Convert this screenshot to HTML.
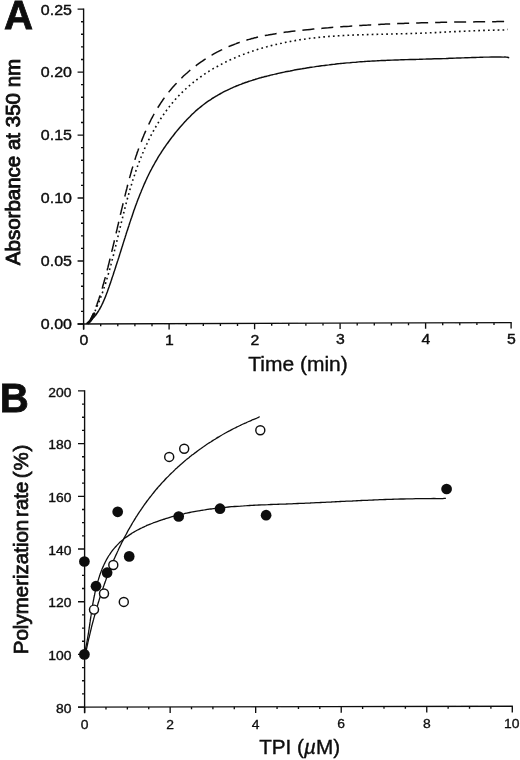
<!DOCTYPE html>
<html lang="en"><head><meta charset="utf-8"><title>Figure</title>
<style>html,body{margin:0;padding:0;background:#fff}body{width:520px;height:760px;overflow:hidden}svg{display:block}</style>
</head><body>
<svg width="520" height="760" viewBox="0 0 520 760">
<defs><filter id="soft" x="0" y="0" width="520" height="760" filterUnits="userSpaceOnUse"><feGaussianBlur stdDeviation="0.42"/></filter></defs>
<rect width="520" height="760" fill="#fff"/>
<g filter="url(#soft)">
<g fill="none" stroke="#111" stroke-width="1.35" stroke-linecap="butt">
<path d="M83.6,8.5 L83.6,329.2"/>
<path d="M77.6,324.0 L511.70000000000005,322.6"/>
<path d="M77.60,324.00H83.6M81.00,311.40H83.6M81.00,298.81H83.6M81.00,286.21H83.6M81.00,273.62H83.6M77.60,261.02H83.6M81.00,248.42H83.6M81.00,235.83H83.6M81.00,223.23H83.6M81.00,210.64H83.6M77.60,198.04H83.6M81.00,185.44H83.6M81.00,172.85H83.6M81.00,160.25H83.6M81.00,147.66H83.6M77.60,135.06H83.6M81.00,122.46H83.6M81.00,109.87H83.6M81.00,97.27H83.6M81.00,84.68H83.6M77.60,72.08H83.6M81.00,59.48H83.6M81.00,46.89H83.6M81.00,34.29H83.6M81.00,21.70H83.6M77.60,9.10H83.6M83.60,324.00v5.8M100.70,323.94v2.4M117.80,323.89v2.4M134.90,323.83v2.4M152.00,323.78v2.4M169.10,323.72v5.8M186.20,323.66v2.4M203.30,323.61v2.4M220.40,323.55v2.4M237.50,323.50v2.4M254.60,323.44v5.8M271.70,323.38v2.4M288.80,323.33v2.4M305.90,323.27v2.4M323.00,323.22v2.4M340.10,323.16v5.8M357.20,323.10v2.4M374.30,323.05v2.4M391.40,322.99v2.4M408.50,322.94v2.4M425.60,322.88v5.8M442.70,322.82v2.4M459.80,322.77v2.4M476.90,322.71v2.4M494.00,322.66v2.4M511.10,322.60v5.8"/>
<path d="M84.6,390.29999999999995 L84.6,712.7"/>
<path d="M78.0,707.1 L512.9,706.2"/>
<path d="M78.00,707.10H84.6M82.00,693.93H84.6M82.00,680.75H84.6M82.00,667.58H84.6M78.00,654.40H84.6M82.00,641.23H84.6M82.00,628.05H84.6M82.00,614.88H84.6M78.00,601.70H84.6M82.00,588.52H84.6M82.00,575.35H84.6M82.00,562.17H84.6M78.00,549.00H84.6M82.00,535.83H84.6M82.00,522.65H84.6M82.00,509.48H84.6M78.00,496.30H84.6M82.00,483.12H84.6M82.00,469.95H84.6M82.00,456.77H84.6M78.00,443.60H84.6M82.00,430.42H84.6M82.00,417.25H84.6M82.00,404.07H84.6M78.00,390.90H84.6M84.60,707.10v6.2M105.98,707.06v2.4M127.37,707.01v2.4M148.75,706.97v2.4M170.14,706.92v6.2M191.52,706.88v2.4M212.91,706.83v2.4M234.29,706.79v2.4M255.68,706.74v6.2M277.06,706.70v2.4M298.45,706.65v2.4M319.83,706.61v2.4M341.22,706.56v6.2M362.61,706.51v2.4M383.99,706.47v2.4M405.38,706.43v2.4M426.76,706.38v6.2M448.14,706.34v2.4M469.53,706.29v2.4M490.91,706.25v2.4M512.30,706.20v6.2"/>
</g>
<g fill="none" stroke="#111" stroke-linejoin="round">
<path d="M86.2,323.6C86.7,323.4 88.1,322.8 88.9,322.3C89.8,321.7 90.4,320.9 91.1,320.3C91.9,319.6 92.5,318.8 93.2,318.1C93.8,317.4 94.5,316.6 95.1,315.8C95.7,315.1 96.3,314.3 96.8,313.5C97.4,312.7 97.9,311.8 98.5,311.0C99.0,310.2 99.5,309.3 100.0,308.5C100.5,307.6 100.9,306.7 101.4,305.8C101.8,304.9 102.3,304.0 102.7,303.1C103.1,302.2 103.5,301.3 103.9,300.4C104.3,299.5 104.7,298.5 105.1,297.6C105.5,296.7 105.8,295.7 106.2,294.8C106.6,293.8 106.9,292.9 107.3,291.9C107.6,291.0 108.0,290.0 108.3,289.1C108.6,288.1 109.0,287.1 109.3,286.2C109.6,285.2 110.0,284.3 110.3,283.3C110.6,282.4 111.0,281.4 111.3,280.4C111.6,279.5 111.9,278.5 112.2,277.6C112.6,276.6 112.9,275.6 113.2,274.7C113.5,273.7 113.8,272.8 114.1,271.8C114.5,270.9 114.8,269.9 115.1,268.9C115.4,268.0 115.7,267.0 116.0,266.1C116.3,265.1 116.6,264.2 116.9,263.2C117.2,262.2 117.5,261.3 117.9,260.3C118.2,259.4 118.5,258.4 118.8,257.5C119.1,256.5 119.4,255.5 119.7,254.6C120.0,253.6 120.3,252.7 120.6,251.7C120.9,250.8 121.2,249.8 121.5,248.8C121.8,247.9 122.1,246.9 122.4,246.0C122.7,245.0 123.0,244.1 123.3,243.1C123.6,242.1 123.9,241.2 124.2,240.2C124.5,239.3 124.8,238.3 125.1,237.4C125.4,236.4 125.7,235.4 126.0,234.5C126.3,233.5 126.6,232.6 126.9,231.6C127.2,230.6 127.6,229.7 127.9,228.7C128.2,227.8 128.5,226.8 128.8,225.9C129.1,224.9 129.4,223.9 129.7,223.0C130.1,222.0 130.4,221.1 130.7,220.1C131.0,219.2 131.3,218.2 131.7,217.3C132.0,216.3 132.3,215.3 132.6,214.4C133.0,213.4 133.3,212.5 133.6,211.5C133.9,210.6 134.3,209.6 134.6,208.7C135.0,207.7 135.3,206.8 135.6,205.8C136.0,204.9 136.3,203.9 136.7,203.0C137.0,202.1 137.4,201.1 137.7,200.2C138.1,199.2 138.5,198.3 138.8,197.4C139.2,196.4 139.6,195.5 139.9,194.5C140.3,193.6 140.7,192.7 141.1,191.7C141.4,190.8 141.8,189.9 142.2,189.0C142.6,188.0 143.0,187.1 143.4,186.2C143.8,185.3 144.2,184.3 144.6,183.4C145.0,182.5 145.4,181.6 145.8,180.7C146.3,179.8 146.7,178.8 147.1,177.9C147.5,177.0 148.0,176.1 148.4,175.2C148.9,174.3 149.3,173.4 149.7,172.5C150.2,171.6 150.7,170.7 151.1,169.8C151.6,169.0 152.0,168.1 152.5,167.2C153.0,166.3 153.5,165.4 154.0,164.5C154.5,163.7 154.9,162.8 155.4,161.9C155.9,161.1 156.5,160.2 157.0,159.3C157.5,158.5 158.0,157.6 158.5,156.7C159.0,155.9 159.6,155.0 160.1,154.2C160.6,153.3 161.2,152.5 161.7,151.7C162.3,150.8 162.8,150.0 163.4,149.1C164.0,148.3 164.5,147.5 165.1,146.6C165.7,145.8 166.3,145.0 166.8,144.2C167.4,143.3 168.0,142.5 168.6,141.7C169.2,140.9 169.8,140.1 170.4,139.3C171.0,138.5 171.6,137.7 172.2,136.9C172.8,136.1 173.5,135.3 174.1,134.5C174.7,133.7 175.3,132.9 176.0,132.1C176.6,131.4 177.2,130.6 177.9,129.8C178.5,129.0 179.2,128.2 179.8,127.5C180.5,126.7 181.2,125.9 181.8,125.2C182.5,124.4 183.2,123.7 183.8,122.9C184.5,122.2 185.2,121.4 185.9,120.7C186.6,120.0 187.3,119.2 188.0,118.5C188.7,117.8 189.4,117.1 190.1,116.4C190.8,115.6 191.5,114.9 192.2,114.2C193.0,113.6 193.7,112.9 194.4,112.2C195.2,111.5 195.9,110.8 196.7,110.2C197.4,109.5 198.2,108.9 199.0,108.2C199.7,107.6 200.5,106.9 201.3,106.3C202.1,105.7 202.9,105.1 203.7,104.5C204.5,103.9 205.3,103.3 206.1,102.7C206.9,102.1 207.7,101.5 208.6,100.9C209.4,100.4 210.2,99.8 211.1,99.3C211.9,98.7 212.8,98.2 213.6,97.6C214.5,97.1 215.3,96.6 216.2,96.1C217.1,95.6 217.9,95.1 218.8,94.6C219.7,94.1 220.6,93.6 221.4,93.1C222.3,92.6 223.2,92.2 224.1,91.7C225.0,91.2 225.9,90.8 226.8,90.4C227.7,89.9 228.6,89.5 229.5,89.1C230.4,88.6 231.4,88.2 232.3,87.8C233.2,87.4 234.1,87.0 235.0,86.6C236.0,86.2 236.9,85.8 237.8,85.5C238.7,85.1 239.7,84.7 240.6,84.4C241.6,84.0 242.5,83.6 243.4,83.3C244.4,82.9 245.3,82.6 246.3,82.3C247.2,81.9 248.2,81.6 249.1,81.3C250.1,81.0 251.0,80.7 252.0,80.4C252.9,80.1 253.9,79.8 254.9,79.5C255.8,79.2 256.8,78.9 257.7,78.6C258.7,78.3 259.7,78.0 260.7,77.8C261.6,77.5 262.6,77.2 263.6,77.0C264.5,76.7 265.5,76.5 266.5,76.2C267.5,76.0 268.4,75.7 269.4,75.5C270.4,75.2 271.4,75.0 272.4,74.8C273.3,74.5 274.3,74.3 275.3,74.1C276.3,73.9 277.3,73.6 278.2,73.4C279.2,73.2 280.2,73.0 281.2,72.8C282.2,72.6 283.2,72.4 284.2,72.1C285.1,71.9 286.1,71.7 287.1,71.5C288.1,71.3 289.1,71.1 290.1,71.0C291.1,70.8 292.1,70.6 293.1,70.4C294.0,70.2 295.0,70.0 296.0,69.8C297.0,69.7 298.0,69.5 299.0,69.3C300.0,69.1 301.0,68.9 302.0,68.8C303.0,68.6 304.0,68.4 305.0,68.3C305.9,68.1 306.9,68.0 307.9,67.8C308.9,67.6 309.9,67.5 310.9,67.3C311.9,67.2 312.9,67.0 313.9,66.9C314.9,66.7 315.9,66.6 316.9,66.4C317.9,66.3 318.9,66.2 319.9,66.0C320.9,65.9 321.9,65.7 322.9,65.6C323.9,65.5 324.9,65.4 325.9,65.2C326.9,65.1 327.9,65.0 328.9,64.9C329.9,64.7 330.9,64.6 331.9,64.5C332.9,64.4 333.8,64.3 334.8,64.2C335.8,64.0 336.8,63.9 337.8,63.8C338.8,63.7 339.8,63.6 340.8,63.5C341.8,63.4 342.8,63.3 343.8,63.2C344.8,63.1 345.8,63.0 346.9,62.9C347.9,62.8 348.9,62.7 349.9,62.7C350.9,62.6 351.9,62.5 352.9,62.4C353.9,62.3 354.9,62.2 355.9,62.2C356.9,62.1 357.9,62.0 358.9,61.9C359.9,61.8 360.9,61.8 361.9,61.7C362.9,61.6 363.9,61.6 364.9,61.5C365.9,61.4 366.9,61.4 367.9,61.3C368.9,61.2 369.9,61.2 370.9,61.1C371.9,61.1 372.9,61.0 373.9,61.0C374.9,60.9 375.9,60.8 376.9,60.8C377.9,60.7 378.9,60.7 379.9,60.6C380.9,60.6 381.9,60.5 382.9,60.5C383.9,60.5 384.9,60.4 385.9,60.4C386.9,60.3 387.9,60.3 389.0,60.2C390.0,60.2 391.0,60.2 392.0,60.1C393.0,60.1 394.0,60.1 395.0,60.0C396.0,60.0 397.0,59.9 398.0,59.9C399.0,59.9 400.0,59.8 401.0,59.8C402.0,59.8 403.0,59.7 404.0,59.7C405.0,59.7 406.0,59.6 407.0,59.6C408.0,59.6 409.0,59.6 410.0,59.5C411.0,59.5 412.1,59.5 413.1,59.4C414.1,59.4 415.1,59.4 416.1,59.4C417.1,59.3 418.1,59.3 419.1,59.3C420.1,59.2 421.1,59.2 422.1,59.2C423.1,59.2 424.1,59.1 425.1,59.1C426.1,59.1 427.1,59.0 428.1,59.0C429.1,59.0 430.1,59.0 431.2,58.9C432.2,58.9 433.2,58.9 434.2,58.8C435.2,58.8 436.2,58.8 437.2,58.8C438.2,58.7 439.2,58.7 440.2,58.7C441.2,58.6 442.2,58.6 443.2,58.6C444.2,58.5 445.2,58.5 446.2,58.5C447.3,58.4 448.3,58.4 449.3,58.3C450.3,58.3 451.3,58.3 452.3,58.2C453.3,58.2 454.3,58.2 455.3,58.1C456.3,58.1 457.3,58.0 458.3,58.0C459.3,58.0 460.3,57.9 461.4,57.9C462.4,57.8 463.4,57.8 464.4,57.8C465.4,57.7 466.4,57.7 467.4,57.7C468.4,57.6 469.4,57.6 470.4,57.6C471.4,57.5 472.4,57.5 473.4,57.4C474.4,57.4 475.4,57.4 476.4,57.4C477.4,57.3 478.4,57.3 479.4,57.3C480.4,57.2 481.4,57.2 482.4,57.2C483.4,57.2 484.4,57.1 485.4,57.1C486.4,57.1 487.4,57.1 488.4,57.1C489.4,57.1 490.4,57.1 491.4,57.0C492.4,57.0 493.4,57.0 494.4,57.0C495.4,57.0 496.4,57.0 497.4,57.0C498.4,57.0 499.4,57.0 500.4,57.0C501.4,57.1 502.4,57.1 503.4,57.1C504.4,57.1 505.4,57.0 506.3,57.1C507.3,57.3 508.7,57.6 509.2,57.7" stroke-width="1.45"/>
<path d="M88.2,323 L90.5,320.6 L94.2,313.6" stroke-width="2.7" stroke-linecap="round"/>
<path d="M87.5,323.4C87.9,323.1 89.2,322.1 89.8,321.4C90.4,320.6 90.8,319.6 91.2,318.7C91.7,317.8 92.2,316.9 92.6,316.0C93.1,315.1 93.5,314.2 94.0,313.3C94.4,312.3 94.9,311.4 95.3,310.5C95.7,309.6 96.1,308.7 96.5,307.8C96.9,306.8 97.3,305.9 97.7,305.0C98.1,304.1 98.5,303.1 98.9,302.2C99.2,301.3 99.6,300.3 100.0,299.4C100.3,298.4 100.7,297.5 101.0,296.6C101.4,295.6 101.7,294.7 102.1,293.7C102.4,292.8 102.7,291.8 103.1,290.9C103.4,289.9 103.7,289.0 104.0,288.0C104.4,287.1 104.7,286.1 105.0,285.1C105.3,284.2 105.6,283.2 105.9,282.3C106.2,281.3 106.5,280.3 106.8,279.4C107.0,278.4 107.3,277.5 107.6,276.5C107.9,275.5 108.2,274.6 108.5,273.6C108.7,272.6 109.0,271.7 109.3,270.7C109.6,269.7 109.8,268.8 110.1,267.8C110.4,266.8 110.6,265.9 110.9,264.9C111.1,263.9 111.4,263.0 111.6,262.0C111.9,261.0 112.2,260.0 112.4,259.1C112.7,258.1 112.9,257.1 113.2,256.2C113.4,255.2 113.7,254.2 113.9,253.2C114.1,252.3 114.4,251.3 114.6,250.3C114.9,249.4 115.1,248.4 115.4,247.4C115.6,246.4 115.8,245.5 116.1,244.5C116.3,243.5 116.5,242.5 116.8,241.6C117.0,240.6 117.2,239.6 117.5,238.6C117.7,237.7 118.0,236.7 118.2,235.7C118.4,234.7 118.7,233.8 118.9,232.8C119.1,231.8 119.4,230.8 119.6,229.9C119.8,228.9 120.1,227.9 120.3,226.9C120.5,226.0 120.8,225.0 121.0,224.0C121.2,223.0 121.5,222.1 121.7,221.1C121.9,220.1 122.2,219.1 122.4,218.2C122.7,217.2 122.9,216.2 123.1,215.3C123.4,214.3 123.6,213.3 123.9,212.3C124.1,211.4 124.4,210.4 124.6,209.4C124.9,208.4 125.1,207.5 125.4,206.5C125.6,205.5 125.9,204.6 126.1,203.6C126.4,202.6 126.6,201.7 126.9,200.7C127.1,199.7 127.4,198.7 127.7,197.8C127.9,196.8 128.2,195.8 128.5,194.9C128.7,193.9 129.0,192.9 129.3,192.0C129.6,191.0 129.8,190.1 130.1,189.1C130.4,188.1 130.7,187.2 131.0,186.2C131.3,185.2 131.6,184.3 131.8,183.3C132.1,182.4 132.4,181.4 132.7,180.4C133.0,179.5 133.4,178.5 133.7,177.6C134.0,176.6 134.3,175.6 134.6,174.7C134.9,173.7 135.3,172.8 135.6,171.8C135.9,170.9 136.2,169.9 136.6,169.0C136.9,168.0 137.3,167.1 137.6,166.1C137.9,165.2 138.3,164.2 138.7,163.3C139.0,162.3 139.4,161.4 139.7,160.4C140.1,159.5 140.5,158.5 140.9,157.6C141.2,156.7 141.6,155.7 142.0,154.8C142.4,153.8 142.8,152.9 143.2,152.0C143.6,151.0 144.0,150.1 144.4,149.2C144.8,148.2 145.2,147.3 145.7,146.4C146.1,145.4 146.5,144.5 147.0,143.6C147.4,142.7 147.8,141.8 148.3,140.8C148.7,139.9 149.2,139.0 149.6,138.1C150.1,137.2 150.6,136.3 151.0,135.4C151.5,134.5 152.0,133.6 152.5,132.7C153.0,131.8 153.5,130.9 153.9,130.0C154.4,129.1 154.9,128.2 155.5,127.3C156.0,126.5 156.5,125.6 157.0,124.7C157.5,123.8 158.1,123.0 158.6,122.1C159.1,121.2 159.7,120.4 160.2,119.5C160.8,118.7 161.3,117.8 161.9,117.0C162.4,116.1 163.0,115.3 163.6,114.5C164.2,113.6 164.7,112.8 165.3,112.0C165.9,111.2 166.5,110.4 167.1,109.6C167.7,108.8 168.3,108.0 168.9,107.2C169.5,106.4 170.2,105.6 170.8,104.8C171.4,104.0 172.1,103.3 172.7,102.5C173.3,101.7 174.0,101.0 174.7,100.2C175.3,99.5 176.0,98.7 176.6,98.0C177.3,97.2 178.0,96.5 178.7,95.8C179.4,95.1 180.1,94.4 180.8,93.7C181.4,93.0 182.2,92.3 182.9,91.6C183.6,90.9 184.3,90.2 185.0,89.5C185.8,88.8 186.5,88.2 187.2,87.5C188.0,86.9 188.7,86.2 189.5,85.6C190.2,84.9 191.0,84.3 191.7,83.7C192.5,83.0 193.3,82.4 194.0,81.8C194.8,81.2 195.6,80.6 196.4,80.0C197.2,79.4 198.0,78.8 198.8,78.2C199.6,77.6 200.4,77.0 201.2,76.5C202.0,75.9 202.8,75.3 203.6,74.8C204.4,74.2 205.3,73.7 206.1,73.1C206.9,72.6 207.8,72.0 208.6,71.5C209.5,71.0 210.3,70.5 211.2,69.9C212.0,69.4 212.9,68.9 213.7,68.4C214.6,67.9 215.4,67.4 216.3,66.9C217.2,66.5 218.1,66.0 218.9,65.5C219.8,65.0 220.7,64.6 221.6,64.1C222.5,63.6 223.4,63.2 224.3,62.7C225.2,62.3 226.1,61.8 227.0,61.4C227.9,61.0 228.8,60.5 229.7,60.1C230.6,59.7 231.5,59.3 232.4,58.9C233.4,58.5 234.3,58.1 235.2,57.7C236.1,57.3 237.1,56.9 238.0,56.5C238.9,56.1 239.9,55.7 240.8,55.4C241.7,55.0 242.7,54.6 243.6,54.3C244.6,53.9 245.5,53.5 246.5,53.2C247.4,52.9 248.4,52.5 249.3,52.2C250.3,51.8 251.2,51.5 252.2,51.2C253.2,50.9 254.1,50.5 255.1,50.2C256.1,49.9 257.0,49.6 258.0,49.3C259.0,49.0 259.9,48.7 260.9,48.4C261.9,48.1 262.9,47.9 263.9,47.6C264.8,47.3 265.8,47.0 266.8,46.8C267.8,46.5 268.8,46.2 269.7,46.0C270.7,45.7 271.7,45.5 272.7,45.2C273.7,45.0 274.7,44.7 275.7,44.5C276.7,44.3 277.7,44.0 278.7,43.8C279.6,43.6 280.6,43.4 281.6,43.2C282.6,42.9 283.6,42.7 284.6,42.5C285.6,42.3 286.6,42.1 287.6,41.9C288.6,41.7 289.6,41.5 290.6,41.4C291.6,41.2 292.6,41.0 293.6,40.8C294.6,40.7 295.6,40.5 296.6,40.3C297.6,40.2 298.6,40.0 299.6,39.8C300.6,39.7 301.6,39.5 302.6,39.4C303.6,39.3 304.6,39.1 305.6,39.0C306.6,38.8 307.6,38.7 308.6,38.6C309.6,38.4 310.6,38.3 311.6,38.2C312.6,38.1 313.6,38.0 314.6,37.9C315.6,37.7 316.6,37.6 317.6,37.5C318.7,37.4 319.7,37.3 320.7,37.2C321.7,37.1 322.7,37.0 323.7,36.9C324.7,36.9 325.7,36.8 326.7,36.7C327.7,36.6 328.7,36.5 329.7,36.4C330.7,36.4 331.7,36.3 332.7,36.2C333.7,36.1 334.7,36.1 335.7,36.0C336.7,35.9 337.7,35.9 338.7,35.8C339.8,35.7 340.8,35.7 341.8,35.6C342.8,35.6 343.8,35.5 344.8,35.5C345.8,35.4 346.8,35.4 347.8,35.3C348.8,35.3 349.8,35.2 350.8,35.2C351.8,35.1 352.8,35.1 353.8,35.0C354.9,35.0 355.9,35.0 356.9,34.9C357.9,34.9 358.9,34.9 359.9,34.8C360.9,34.8 361.9,34.8 362.9,34.7C363.9,34.7 364.9,34.7 365.9,34.6C366.9,34.6 367.9,34.6 369.0,34.5C370.0,34.5 371.0,34.5 372.0,34.5C373.0,34.4 374.0,34.4 375.0,34.4C376.0,34.4 377.0,34.4 378.0,34.3C379.0,34.3 380.0,34.3 381.1,34.3C382.1,34.2 383.1,34.2 384.1,34.2C385.1,34.2 386.1,34.2 387.1,34.1C388.1,34.1 389.1,34.1 390.1,34.1C391.1,34.0 392.1,34.0 393.1,34.0C394.2,34.0 395.2,34.0 396.2,33.9C397.2,33.9 398.2,33.9 399.2,33.9C400.2,33.8 401.2,33.8 402.2,33.8C403.2,33.8 404.2,33.7 405.2,33.7C406.2,33.7 407.3,33.7 408.3,33.6C409.3,33.6 410.3,33.6 411.3,33.5C412.3,33.5 413.3,33.5 414.3,33.4C415.3,33.4 416.3,33.4 417.3,33.3C418.3,33.3 419.3,33.2 420.4,33.2C421.4,33.2 422.4,33.1 423.4,33.1C424.4,33.1 425.4,33.0 426.4,33.0C427.4,32.9 428.4,32.9 429.4,32.8C430.4,32.8 431.4,32.7 432.4,32.7C433.4,32.7 434.5,32.6 435.5,32.6C436.5,32.5 437.5,32.5 438.5,32.4C439.5,32.4 440.5,32.3 441.5,32.3C442.5,32.2 443.5,32.2 444.5,32.1C445.5,32.1 446.5,32.0 447.5,32.0C448.5,31.9 449.6,31.9 450.6,31.8C451.6,31.8 452.6,31.7 453.6,31.7C454.6,31.6 455.6,31.6 456.6,31.6C457.6,31.5 458.6,31.5 459.6,31.4C460.6,31.4 461.6,31.3 462.6,31.3C463.6,31.2 464.7,31.2 465.7,31.1C466.7,31.1 467.7,31.0 468.7,31.0C469.7,31.0 470.7,30.9 471.7,30.9C472.7,30.8 473.7,30.8 474.7,30.8C475.7,30.7 476.7,30.7 477.7,30.6C478.7,30.6 479.8,30.6 480.8,30.5C481.8,30.5 482.8,30.5 483.8,30.4C484.8,30.4 485.8,30.4 486.8,30.3C487.8,30.3 488.8,30.3 489.8,30.2C490.8,30.2 491.8,30.2 492.8,30.2C493.8,30.1 494.9,30.1 495.9,30.1C496.9,30.1 497.9,30.1 498.9,30.0C499.9,30.0 500.9,30.0 501.9,30.0C502.9,30.0 503.9,30.1 504.9,30.0C505.9,29.9 507.4,29.5 507.9,29.4" stroke-width="1.6" stroke-dasharray="1.7 3.15"/>
<path d="M87.5,323.4C87.9,323.1 89.2,322.1 89.7,321.3C90.3,320.5 90.6,319.5 91.1,318.6C91.5,317.7 91.9,316.8 92.3,315.9C92.8,315.0 93.2,314.0 93.6,313.1C94.0,312.2 94.3,311.2 94.7,310.3C95.1,309.4 95.5,308.4 95.8,307.5C96.2,306.6 96.5,305.6 96.9,304.7C97.2,303.7 97.6,302.8 97.9,301.8C98.2,300.9 98.6,299.9 98.9,299.0C99.2,298.0 99.5,297.1 99.8,296.1C100.1,295.2 100.4,294.2 100.7,293.3C101.0,292.3 101.3,291.3 101.6,290.4C101.9,289.4 102.2,288.4 102.5,287.5C102.7,286.5 103.0,285.5 103.3,284.6C103.6,283.6 103.8,282.7 104.1,281.7C104.4,280.7 104.6,279.8 104.9,278.8C105.2,277.8 105.4,276.8 105.7,275.9C105.9,274.9 106.2,273.9 106.4,273.0C106.7,272.0 107.0,271.0 107.2,270.1C107.5,269.1 107.7,268.1 108.0,267.2C108.2,266.2 108.4,265.2 108.7,264.3C108.9,263.3 109.2,262.3 109.4,261.4C109.7,260.4 109.9,259.4 110.1,258.5C110.4,257.5 110.6,256.5 110.8,255.6C111.1,254.6 111.3,253.6 111.5,252.7C111.8,251.7 112.0,250.7 112.2,249.7C112.5,248.8 112.7,247.8 112.9,246.8C113.2,245.9 113.4,244.9 113.6,243.9C113.9,243.0 114.1,242.0 114.3,241.0C114.5,240.0 114.8,239.1 115.0,238.1C115.2,237.1 115.4,236.2 115.7,235.2C115.9,234.2 116.1,233.2 116.3,232.3C116.6,231.3 116.8,230.3 117.0,229.4C117.2,228.4 117.5,227.4 117.7,226.4C117.9,225.5 118.1,224.5 118.4,223.5C118.6,222.5 118.8,221.6 119.1,220.6C119.3,219.6 119.5,218.6 119.7,217.6C120.0,216.7 120.2,215.7 120.4,214.7C120.6,213.7 120.9,212.8 121.1,211.8C121.3,210.8 121.6,209.8 121.8,208.8C122.0,207.9 122.3,206.9 122.5,205.9C122.7,204.9 123.0,203.9 123.2,203.0C123.4,202.0 123.7,201.0 123.9,200.0C124.2,199.0 124.4,198.0 124.6,197.1C124.9,196.1 125.1,195.1 125.4,194.1C125.6,193.1 125.9,192.1 126.1,191.2C126.4,190.2 126.6,189.2 126.9,188.2C127.1,187.2 127.4,186.2 127.6,185.2C127.9,184.3 128.1,183.3 128.4,182.3C128.6,181.3 128.9,180.3 129.2,179.3C129.4,178.4 129.7,177.4 130.0,176.4C130.3,175.4 130.5,174.4 130.8,173.4C131.1,172.5 131.4,171.5 131.6,170.5C131.9,169.5 132.2,168.6 132.5,167.6C132.8,166.6 133.1,165.6 133.4,164.7C133.7,163.7 134.0,162.7 134.3,161.7C134.6,160.8 134.9,159.8 135.2,158.8C135.5,157.9 135.8,156.9 136.1,155.9C136.5,155.0 136.8,154.0 137.1,153.1C137.4,152.1 137.8,151.1 138.1,150.2C138.4,149.2 138.8,148.3 139.1,147.3C139.5,146.4 139.8,145.4 140.2,144.5C140.5,143.5 140.9,142.6 141.3,141.7C141.6,140.7 142.0,139.8 142.4,138.9C142.7,137.9 143.1,137.0 143.5,136.1C143.9,135.1 144.3,134.2 144.7,133.3C145.1,132.4 145.5,131.4 145.9,130.5C146.3,129.6 146.7,128.7 147.1,127.8C147.5,126.9 148.0,126.0 148.4,125.1C148.8,124.2 149.2,123.3 149.7,122.4C150.1,121.5 150.6,120.6 151.0,119.7C151.5,118.8 152.0,118.0 152.4,117.1C152.9,116.2 153.4,115.3 153.8,114.5C154.3,113.6 154.8,112.7 155.3,111.9C155.8,111.0 156.3,110.1 156.8,109.3C157.3,108.4 157.8,107.6 158.4,106.8C158.9,105.9 159.4,105.1 160.0,104.3C160.5,103.4 161.1,102.6 161.6,101.8C162.2,101.0 162.7,100.1 163.3,99.3C163.9,98.5 164.4,97.7 165.0,96.9C165.6,96.1 166.2,95.3 166.8,94.5C167.4,93.7 168.0,93.0 168.6,92.2C169.3,91.4 169.9,90.6 170.5,89.9C171.2,89.1 171.8,88.4 172.5,87.6C173.1,86.9 173.8,86.1 174.4,85.4C175.1,84.6 175.8,83.9 176.5,83.2C177.1,82.4 177.8,81.7 178.5,81.0C179.2,80.3 179.9,79.6 180.7,78.9C181.4,78.2 182.1,77.5 182.8,76.8C183.5,76.1 184.3,75.4 185.0,74.8C185.8,74.1 186.5,73.4 187.3,72.7C188.0,72.1 188.8,71.4 189.5,70.8C190.3,70.1 191.1,69.5 191.9,68.9C192.6,68.2 193.4,67.6 194.2,67.0C195.0,66.4 195.8,65.8 196.6,65.2C197.4,64.6 198.2,64.0 199.0,63.4C199.9,62.8 200.7,62.2 201.5,61.6C202.3,61.1 203.2,60.5 204.0,60.0C204.8,59.4 205.7,58.9 206.5,58.3C207.4,57.8 208.2,57.2 209.1,56.7C210.0,56.2 210.8,55.7 211.7,55.2C212.6,54.7 213.4,54.2 214.3,53.7C215.2,53.2 216.1,52.7 217.0,52.2C217.8,51.8 218.7,51.3 219.6,50.8C220.5,50.4 221.4,49.9 222.3,49.5C223.2,49.1 224.1,48.6 225.1,48.2C226.0,47.8 226.9,47.4 227.8,47.0C228.7,46.6 229.6,46.2 230.6,45.8C231.5,45.4 232.4,45.0 233.4,44.7C234.3,44.3 235.2,43.9 236.2,43.6C237.1,43.2 238.1,42.9 239.0,42.6C239.9,42.2 240.9,41.9 241.8,41.6C242.8,41.3 243.7,41.0 244.7,40.7C245.7,40.4 246.6,40.1 247.6,39.8C248.5,39.5 249.5,39.3 250.5,39.0C251.4,38.7 252.4,38.5 253.4,38.2C254.4,38.0 255.3,37.7 256.3,37.5C257.3,37.3 258.3,37.0 259.2,36.8C260.2,36.6 261.2,36.4 262.2,36.2C263.2,35.9 264.2,35.7 265.2,35.5C266.1,35.3 267.1,35.1 268.1,35.0C269.1,34.8 270.1,34.6 271.1,34.4C272.1,34.2 273.1,34.1 274.1,33.9C275.1,33.7 276.1,33.6 277.1,33.4C278.1,33.2 279.1,33.1 280.1,32.9C281.1,32.8 282.1,32.6 283.1,32.5C284.1,32.4 285.1,32.2 286.1,32.1C287.1,32.0 288.1,31.8 289.1,31.7C290.1,31.6 291.1,31.4 292.1,31.3C293.2,31.2 294.2,31.1 295.2,31.0C296.2,30.9 297.2,30.7 298.2,30.6C299.2,30.5 300.2,30.4 301.2,30.3C302.2,30.2 303.2,30.1 304.2,30.0C305.3,29.9 306.3,29.8 307.3,29.7C308.3,29.6 309.3,29.5 310.3,29.4C311.3,29.3 312.3,29.2 313.3,29.1C314.3,29.0 315.3,28.9 316.3,28.8C317.4,28.7 318.4,28.6 319.4,28.5C320.4,28.4 321.4,28.4 322.4,28.3C323.4,28.2 324.4,28.1 325.4,28.0C326.4,27.9 327.4,27.8 328.4,27.8C329.4,27.7 330.4,27.6 331.4,27.5C332.4,27.4 333.4,27.3 334.5,27.3C335.5,27.2 336.5,27.1 337.5,27.0C338.5,27.0 339.5,26.9 340.5,26.8C341.5,26.7 342.5,26.7 343.5,26.6C344.5,26.5 345.5,26.4 346.5,26.4C347.5,26.3 348.5,26.2 349.5,26.2C350.5,26.1 351.5,26.0 352.5,26.0C353.5,25.9 354.5,25.8 355.5,25.8C356.5,25.7 357.5,25.6 358.5,25.6C359.5,25.5 360.5,25.5 361.5,25.4C362.5,25.3 363.5,25.3 364.5,25.2C365.5,25.2 366.6,25.1 367.6,25.1C368.6,25.0 369.6,24.9 370.6,24.9C371.6,24.8 372.6,24.8 373.6,24.7C374.6,24.7 375.6,24.6 376.6,24.6C377.6,24.5 378.6,24.5 379.6,24.4C380.6,24.4 381.6,24.3 382.6,24.3C383.6,24.2 384.6,24.2 385.6,24.1C386.6,24.1 387.6,24.0 388.6,24.0C389.6,24.0 390.6,23.9 391.6,23.9C392.6,23.8 393.6,23.8 394.6,23.7C395.6,23.7 396.6,23.7 397.6,23.6C398.6,23.6 399.6,23.6 400.6,23.5C401.6,23.5 402.6,23.4 403.6,23.4C404.6,23.4 405.6,23.3 406.6,23.3C407.6,23.3 408.6,23.2 409.6,23.2C410.6,23.2 411.6,23.1 412.6,23.1C413.6,23.1 414.6,23.0 415.6,23.0C416.6,23.0 417.6,22.9 418.6,22.9C419.6,22.9 420.6,22.9 421.6,22.8C422.6,22.8 423.6,22.8 424.6,22.7C425.6,22.7 426.7,22.7 427.7,22.7C428.7,22.6 429.7,22.6 430.7,22.6C431.7,22.6 432.7,22.5 433.7,22.5C434.7,22.5 435.7,22.5 436.7,22.5C437.7,22.4 438.7,22.4 439.7,22.4C440.7,22.4 441.7,22.3 442.7,22.3C443.7,22.3 444.7,22.3 445.7,22.3C446.7,22.2 447.7,22.2 448.7,22.2C449.7,22.2 450.7,22.2 451.7,22.2C452.8,22.1 453.8,22.1 454.8,22.1C455.8,22.1 456.8,22.1 457.8,22.1C458.8,22.0 459.8,22.0 460.8,22.0C461.8,22.0 462.8,22.0 463.8,22.0C464.8,22.0 465.8,21.9 466.8,21.9C467.8,21.9 468.9,21.9 469.9,21.9C470.9,21.9 471.9,21.9 472.9,21.9C473.9,21.8 474.9,21.8 475.9,21.8C476.9,21.8 477.9,21.8 478.9,21.8C479.9,21.8 481.0,21.8 482.0,21.8C483.0,21.8 484.0,21.7 485.0,21.7C486.0,21.7 487.0,21.7 488.0,21.7C489.0,21.7 490.0,21.7 491.1,21.7C492.1,21.7 493.1,21.7 494.1,21.7C495.1,21.7 496.1,21.6 497.1,21.6C498.1,21.6 499.2,21.6 500.2,21.6C501.2,21.6 502.2,21.6 503.2,21.6C504.2,21.6 505.3,21.6 506.3,21.6C507.3,21.6 508.7,21.6 509.2,21.6" stroke-width="1.5" stroke-dasharray="12 7"/>
</g>
<g fill="none" stroke="#111" stroke-width="1.3">
<path d="M84.4,654.4C84.5,653.9 84.8,652.4 85.0,651.5C85.2,650.5 85.4,649.6 85.6,648.6C85.8,647.6 86.0,646.7 86.2,645.7C86.4,644.8 86.6,643.8 86.8,642.8C87.0,641.8 87.1,640.9 87.3,639.9C87.5,638.9 87.7,637.9 87.8,636.9C88.0,635.9 88.1,635.0 88.3,634.0C88.5,633.0 88.6,632.0 88.8,631.0C88.9,630.0 89.1,629.0 89.2,628.0C89.4,627.0 89.5,626.0 89.7,625.0C89.8,624.0 89.9,622.9 90.1,621.9C90.2,620.9 90.4,619.9 90.5,618.9C90.7,617.9 90.8,616.9 91.0,615.9C91.1,614.9 91.3,613.9 91.4,612.8C91.6,611.8 91.7,610.8 91.9,609.8C92.0,608.8 92.2,607.8 92.4,606.8C92.5,605.8 92.7,604.7 92.9,603.7C93.0,602.7 93.2,601.7 93.4,600.7C93.6,599.7 93.8,598.7 94.0,597.7C94.1,596.7 94.3,595.7 94.6,594.7C94.8,593.7 95.0,592.7 95.2,591.7C95.4,590.7 95.6,589.7 95.9,588.7C96.1,587.7 96.4,586.7 96.6,585.7C96.9,584.7 97.1,583.8 97.4,582.8C97.7,581.8 98.0,580.8 98.3,579.9C98.6,578.9 98.9,577.9 99.2,577.0C99.5,576.0 99.8,575.0 100.2,574.1C100.5,573.1 100.8,572.2 101.2,571.2C101.6,570.3 102.0,569.4 102.3,568.4C102.7,567.5 103.1,566.6 103.6,565.6C104.0,564.7 104.4,563.8 104.9,562.9C105.3,562.0 105.8,561.1 106.2,560.2C106.7,559.3 107.2,558.5 107.7,557.6C108.2,556.7 108.7,555.9 109.3,555.0C109.8,554.2 110.4,553.4 110.9,552.6C111.5,551.8 112.1,551.0 112.7,550.2C113.3,549.4 113.9,548.6 114.6,547.9C115.2,547.1 115.9,546.4 116.6,545.7C117.2,545.0 117.9,544.3 118.6,543.6C119.3,542.9 120.0,542.2 120.8,541.6C121.5,540.9 122.3,540.3 123.0,539.7C123.8,539.0 124.6,538.4 125.3,537.8C126.1,537.2 126.9,536.6 127.7,536.1C128.6,535.5 129.4,534.9 130.2,534.4C131.0,533.9 131.9,533.3 132.7,532.8C133.6,532.3 134.5,531.8 135.3,531.3C136.2,530.8 137.1,530.3 138.0,529.8C138.9,529.3 139.8,528.9 140.7,528.4C141.6,528.0 142.5,527.5 143.4,527.1C144.3,526.7 145.3,526.3 146.2,525.8C147.1,525.4 148.1,525.0 149.0,524.6C149.9,524.2 150.9,523.9 151.8,523.5C152.8,523.1 153.7,522.7 154.7,522.4C155.6,522.0 156.6,521.7 157.6,521.3C158.5,521.0 159.5,520.7 160.5,520.3C161.4,520.0 162.4,519.7 163.3,519.4C164.3,519.1 165.3,518.7 166.2,518.4C167.2,518.1 168.2,517.9 169.1,517.6C170.1,517.3 171.1,517.0 172.1,516.7C173.0,516.5 174.0,516.2 175.0,515.9C176.0,515.7 176.9,515.4 177.9,515.2C178.9,514.9 179.9,514.7 180.8,514.4C181.8,514.2 182.8,514.0 183.8,513.8C184.8,513.5 185.7,513.3 186.7,513.1C187.7,512.9 188.7,512.7 189.7,512.5C190.7,512.3 191.6,512.1 192.6,511.9C193.6,511.7 194.6,511.5 195.6,511.3C196.6,511.2 197.6,511.0 198.6,510.8C199.6,510.6 200.5,510.5 201.5,510.3C202.5,510.2 203.5,510.0 204.5,509.9C205.5,509.7 206.5,509.6 207.5,509.4C208.5,509.3 209.5,509.1 210.5,509.0C211.5,508.9 212.5,508.7 213.5,508.6C214.5,508.5 215.5,508.4 216.5,508.2C217.5,508.1 218.5,508.0 219.5,507.9C220.5,507.8 221.5,507.7 222.5,507.6C223.5,507.5 224.5,507.4 225.5,507.3C226.5,507.2 227.5,507.1 228.5,507.0C229.5,506.9 230.5,506.8 231.5,506.7C232.5,506.7 233.5,506.6 234.5,506.5C235.5,506.4 236.5,506.3 237.5,506.3C238.5,506.2 239.5,506.1 240.5,506.1C241.5,506.0 242.5,505.9 243.5,505.9C244.6,505.8 245.6,505.7 246.6,505.7C247.6,505.6 248.6,505.6 249.6,505.5C250.6,505.4 251.6,505.4 252.6,505.3C253.6,505.3 254.6,505.2 255.6,505.2C256.6,505.1 257.7,505.1 258.7,505.0C259.7,505.0 260.7,505.0 261.7,504.9C262.7,504.9 263.7,504.8 264.7,504.8C265.7,504.7 266.7,504.7 267.8,504.7C268.8,504.6 269.8,504.6 270.8,504.5C271.8,504.5 272.8,504.5 273.8,504.4C274.8,504.4 275.8,504.4 276.8,504.3C277.9,504.3 278.9,504.2 279.9,504.2C280.9,504.2 281.9,504.1 282.9,504.1C283.9,504.1 284.9,504.0 285.9,504.0C286.9,503.9 287.9,503.9 289.0,503.9C290.0,503.8 291.0,503.8 292.0,503.8C293.0,503.7 294.0,503.7 295.0,503.6C296.0,503.6 297.0,503.6 298.0,503.5C299.0,503.5 300.0,503.4 301.1,503.4C302.1,503.3 303.1,503.3 304.1,503.3C305.1,503.2 306.1,503.2 307.1,503.1C308.1,503.1 309.1,503.0 310.1,503.0C311.1,502.9 312.1,502.9 313.1,502.8C314.1,502.8 315.1,502.8 316.1,502.7C317.2,502.7 318.2,502.6 319.2,502.6C320.2,502.5 321.2,502.5 322.2,502.4C323.2,502.4 324.2,502.3 325.2,502.3C326.2,502.2 327.2,502.2 328.2,502.1C329.2,502.1 330.2,502.0 331.2,502.0C332.2,501.9 333.2,501.9 334.2,501.8C335.2,501.8 336.2,501.7 337.2,501.7C338.2,501.6 339.3,501.6 340.3,501.5C341.3,501.5 342.3,501.4 343.3,501.4C344.3,501.3 345.3,501.3 346.3,501.2C347.3,501.2 348.3,501.1 349.3,501.1C350.3,501.0 351.3,501.0 352.3,501.0C353.3,500.9 354.3,500.9 355.3,500.8C356.3,500.8 357.3,500.7 358.3,500.7C359.3,500.6 360.3,500.6 361.3,500.5C362.3,500.5 363.3,500.4 364.3,500.4C365.3,500.3 366.4,500.3 367.4,500.3C368.4,500.2 369.4,500.2 370.4,500.1C371.4,500.1 372.4,500.0 373.4,500.0C374.4,500.0 375.4,499.9 376.4,499.9C377.4,499.8 378.4,499.8 379.4,499.7C380.4,499.7 381.4,499.7 382.4,499.6C383.4,499.6 384.4,499.6 385.4,499.5C386.4,499.5 387.4,499.4 388.4,499.4C389.5,499.4 390.5,499.3 391.5,499.3C392.5,499.3 393.5,499.2 394.5,499.2C395.5,499.2 396.5,499.1 397.5,499.1C398.5,499.1 399.5,499.1 400.5,499.0C401.5,499.0 402.5,499.0 403.5,499.0C404.5,498.9 405.5,498.9 406.6,498.9C407.6,498.9 408.6,498.8 409.6,498.8C410.6,498.8 411.6,498.8 412.6,498.8C413.6,498.7 414.6,498.7 415.6,498.7C416.6,498.7 417.6,498.7 418.6,498.7C419.7,498.6 420.7,498.6 421.7,498.6C422.7,498.6 423.7,498.6 424.7,498.6C425.7,498.6 426.7,498.6 427.7,498.6C428.7,498.6 429.8,498.6 430.8,498.6C431.8,498.5 432.8,498.5 433.8,498.5C434.8,498.5 435.8,498.5 436.8,498.6C437.8,498.6 438.9,498.6 439.9,498.6C440.9,498.6 441.9,498.6 442.9,498.6C443.9,498.5 445.4,498.3 445.9,498.3"/>
<path d="M84.4,654.4C84.7,653.9 85.6,652.6 86.0,651.6C86.3,650.7 86.4,649.7 86.6,648.7C86.8,647.7 87.0,646.8 87.2,645.8C87.4,644.8 87.6,643.8 87.8,642.9C88.1,641.9 88.3,640.9 88.5,639.9C88.7,638.9 89.0,638.0 89.2,637.0C89.4,636.0 89.6,635.0 89.9,634.1C90.1,633.1 90.3,632.1 90.6,631.1C90.8,630.1 91.1,629.2 91.3,628.2C91.5,627.2 91.8,626.2 92.0,625.2C92.3,624.3 92.5,623.3 92.8,622.3C93.1,621.3 93.3,620.3 93.6,619.4C93.8,618.4 94.1,617.4 94.4,616.4C94.6,615.5 94.9,614.5 95.2,613.5C95.4,612.5 95.7,611.5 96.0,610.6C96.3,609.6 96.6,608.6 96.8,607.6C97.1,606.7 97.4,605.7 97.7,604.7C98.0,603.7 98.3,602.8 98.6,601.8C98.9,600.8 99.2,599.9 99.5,598.9C99.8,597.9 100.1,596.9 100.4,596.0C100.7,595.0 101.0,594.0 101.4,593.1C101.7,592.1 102.0,591.1 102.3,590.2C102.6,589.2 103.0,588.2 103.3,587.3C103.6,586.3 104.0,585.4 104.3,584.4C104.6,583.4 105.0,582.5 105.3,581.5C105.7,580.6 106.0,579.6 106.4,578.6C106.7,577.7 107.1,576.7 107.4,575.8C107.8,574.8 108.2,573.9 108.5,572.9C108.9,572.0 109.3,571.0 109.6,570.1C110.0,569.1 110.4,568.2 110.8,567.3C111.2,566.3 111.5,565.4 111.9,564.4C112.3,563.5 112.7,562.6 113.1,561.6C113.5,560.7 113.9,559.7 114.3,558.8C114.7,557.9 115.1,557.0 115.5,556.0C115.9,555.1 116.4,554.2 116.8,553.2C117.2,552.3 117.6,551.4 118.1,550.5C118.5,549.6 118.9,548.6 119.3,547.7C119.8,546.8 120.2,545.9 120.7,545.0C121.1,544.1 121.6,543.2 122.0,542.3C122.5,541.4 122.9,540.5 123.4,539.6C123.8,538.7 124.3,537.8 124.8,536.9C125.2,536.0 125.7,535.1 126.2,534.2C126.7,533.3 127.2,532.4 127.6,531.5C128.1,530.6 128.6,529.8 129.1,528.9C129.6,528.0 130.1,527.1 130.6,526.3C131.1,525.4 131.6,524.5 132.1,523.6C132.7,522.8 133.2,521.9 133.7,521.0C134.2,520.2 134.7,519.3 135.3,518.5C135.8,517.6 136.3,516.8 136.9,515.9C137.4,515.1 138.0,514.2 138.5,513.4C139.1,512.5 139.6,511.7 140.2,510.9C140.7,510.0 141.3,509.2 141.9,508.4C142.4,507.5 143.0,506.7 143.6,505.9C144.2,505.1 144.7,504.3 145.3,503.5C145.9,502.6 146.5,501.8 147.1,501.0C147.7,500.2 148.3,499.4 148.9,498.6C149.5,497.8 150.1,497.0 150.8,496.2C151.4,495.4 152.0,494.7 152.6,493.9C153.3,493.1 153.9,492.3 154.5,491.5C155.2,490.8 155.8,490.0 156.4,489.2C157.1,488.5 157.7,487.7 158.4,486.9C159.1,486.2 159.7,485.4 160.4,484.7C161.1,483.9 161.7,483.2 162.4,482.4C163.1,481.7 163.8,481.0 164.5,480.2C165.2,479.5 165.8,478.8 166.5,478.0C167.2,477.3 167.9,476.6 168.7,475.9C169.4,475.2 170.1,474.5 170.8,473.8C171.5,473.1 172.2,472.3 173.0,471.7C173.7,471.0 174.4,470.3 175.1,469.6C175.9,468.9 176.6,468.2 177.4,467.5C178.1,466.8 178.9,466.2 179.6,465.5C180.4,464.8 181.1,464.2 181.9,463.5C182.6,462.8 183.4,462.2 184.2,461.5C185.0,460.9 185.7,460.2 186.5,459.6C187.3,458.9 188.1,458.3 188.9,457.7C189.6,457.0 190.4,456.4 191.2,455.8C192.0,455.2 192.8,454.5 193.6,453.9C194.4,453.3 195.2,452.7 196.1,452.1C196.9,451.5 197.7,450.9 198.5,450.3C199.3,449.7 200.1,449.1 201.0,448.5C201.8,447.9 202.6,447.3 203.5,446.8C204.3,446.2 205.1,445.6 206.0,445.0C206.8,444.5 207.6,443.9 208.5,443.3C209.3,442.8 210.2,442.2 211.1,441.7C211.9,441.1 212.8,440.6 213.6,440.0C214.5,439.5 215.4,439.0 216.2,438.4C217.1,437.9 218.0,437.4 218.8,436.9C219.7,436.3 220.6,435.8 221.5,435.3C222.3,434.8 223.2,434.3 224.1,433.8C225.0,433.3 225.9,432.8 226.8,432.3C227.7,431.8 228.6,431.3 229.5,430.9C230.4,430.4 231.3,429.9 232.2,429.4C233.1,429.0 234.0,428.5 234.9,428.0C235.8,427.6 236.7,427.1 237.6,426.7C238.6,426.2 239.5,425.8 240.4,425.3C241.3,424.9 242.2,424.5 243.2,424.0C244.1,423.6 245.0,423.2 245.9,422.8C246.9,422.3 247.8,421.9 248.7,421.5C249.7,421.1 250.6,420.7 251.5,420.3C252.5,419.9 253.4,419.5 254.4,419.1C255.3,418.7 256.3,418.4 257.2,418.0C258.1,417.6 259.3,416.8 259.7,416.6"/>
</g>
<circle cx="84.4" cy="561.5" r="5.35" fill="#0a0a0a"/>
<circle cx="84.4" cy="654.4" r="5.35" fill="#0a0a0a"/>
<circle cx="96" cy="586.2" r="5.35" fill="#0a0a0a"/>
<circle cx="107.1" cy="572.7" r="5.35" fill="#0a0a0a"/>
<circle cx="129.2" cy="556.4" r="5.35" fill="#0a0a0a"/>
<circle cx="117.7" cy="511.8" r="5.35" fill="#0a0a0a"/>
<circle cx="178.7" cy="516.5" r="5.35" fill="#0a0a0a"/>
<circle cx="220" cy="508.7" r="5.35" fill="#0a0a0a"/>
<circle cx="266.1" cy="515.2" r="5.35" fill="#0a0a0a"/>
<circle cx="446.6" cy="489" r="5.35" fill="#0a0a0a"/>
<circle cx="94" cy="609.6" r="4.5" fill="#fff" stroke="#111" stroke-width="1.45"/>
<circle cx="104" cy="593.5" r="4.5" fill="#fff" stroke="#111" stroke-width="1.45"/>
<circle cx="113.3" cy="565" r="4.5" fill="#fff" stroke="#111" stroke-width="1.45"/>
<circle cx="123.8" cy="601.9" r="4.5" fill="#fff" stroke="#111" stroke-width="1.45"/>
<circle cx="169.2" cy="456.9" r="4.5" fill="#fff" stroke="#111" stroke-width="1.45"/>
<circle cx="184.2" cy="448.8" r="4.5" fill="#fff" stroke="#111" stroke-width="1.45"/>
<circle cx="260.3" cy="430.3" r="4.5" fill="#fff" stroke="#111" stroke-width="1.45"/>
<g font-family="'Liberation Sans', sans-serif" fill="#0a0a0a" stroke="#0a0a0a" stroke-width="0">
<text transform="translate(3.90,29.40)" font-size="40.2" text-anchor="start" stroke-width="0.8" font-weight="bold">A</text>
<text transform="translate(-0.30,411.50)" font-size="40.2" text-anchor="start" stroke-width="0.8" font-weight="bold">B</text>
<text transform="translate(72.00,329.40) scale(1,0.96)" font-size="16.0" text-anchor="end" stroke-width="0.4">0.00</text>
<text transform="translate(72.00,266.42) scale(1,0.96)" font-size="16.0" text-anchor="end" stroke-width="0.4">0.05</text>
<text transform="translate(72.00,203.44) scale(1,0.96)" font-size="16.0" text-anchor="end" stroke-width="0.4">0.10</text>
<text transform="translate(72.00,140.46) scale(1,0.96)" font-size="16.0" text-anchor="end" stroke-width="0.4">0.15</text>
<text transform="translate(72.00,77.48) scale(1,0.96)" font-size="16.0" text-anchor="end" stroke-width="0.4">0.20</text>
<text transform="translate(72.00,14.50) scale(1,0.96)" font-size="16.0" text-anchor="end" stroke-width="0.4">0.25</text>
<text transform="translate(83.90,345.30) scale(1,0.98)" font-size="15.8" text-anchor="middle" stroke-width="0.4">0</text>
<text transform="translate(169.40,345.00) scale(1,0.98)" font-size="15.8" text-anchor="middle" stroke-width="0.4">1</text>
<text transform="translate(254.90,344.70) scale(1,0.98)" font-size="15.8" text-anchor="middle" stroke-width="0.4">2</text>
<text transform="translate(340.40,344.40) scale(1,0.98)" font-size="15.8" text-anchor="middle" stroke-width="0.4">3</text>
<text transform="translate(425.90,344.10) scale(1,0.98)" font-size="15.8" text-anchor="middle" stroke-width="0.4">4</text>
<text transform="translate(511.40,343.80) scale(1,0.98)" font-size="15.8" text-anchor="middle" stroke-width="0.4">5</text>
<text transform="translate(71.50,712.85) scale(1,0.93)" font-size="13.9" text-anchor="end" stroke-width="0.35">80</text>
<text transform="translate(71.50,660.15) scale(1,0.93)" font-size="13.9" text-anchor="end" stroke-width="0.35">100</text>
<text transform="translate(71.50,607.45) scale(1,0.93)" font-size="13.9" text-anchor="end" stroke-width="0.35">120</text>
<text transform="translate(71.50,554.75) scale(1,0.93)" font-size="13.9" text-anchor="end" stroke-width="0.35">140</text>
<text transform="translate(71.50,502.05) scale(1,0.93)" font-size="13.9" text-anchor="end" stroke-width="0.35">160</text>
<text transform="translate(71.50,449.35) scale(1,0.93)" font-size="13.9" text-anchor="end" stroke-width="0.35">180</text>
<text transform="translate(71.50,396.65) scale(1,0.93)" font-size="13.9" text-anchor="end" stroke-width="0.35">200</text>
<text transform="translate(84.60,729.00) scale(1,0.93)" font-size="13.9" text-anchor="middle" stroke-width="0.3">0</text>
<text transform="translate(170.14,728.82) scale(1,0.93)" font-size="13.9" text-anchor="middle" stroke-width="0.3">2</text>
<text transform="translate(255.68,728.64) scale(1,0.93)" font-size="13.9" text-anchor="middle" stroke-width="0.3">4</text>
<text transform="translate(341.22,728.46) scale(1,0.93)" font-size="13.9" text-anchor="middle" stroke-width="0.3">6</text>
<text transform="translate(426.76,728.28) scale(1,0.93)" font-size="13.9" text-anchor="middle" stroke-width="0.3">8</text>
<text transform="translate(511.70,728.10) scale(1,0.93)" font-size="13.9" text-anchor="middle" stroke-width="0.3">10</text>
<text transform="translate(298.00,370.50) scale(1,0.935)" font-size="21" text-anchor="middle" stroke-width="0.35">Time (min)</text>
<text transform="translate(299.60,753.70) scale(1,0.96)" font-size="20.7" text-anchor="middle" stroke-width="0.35">TPI (<tspan font-style="italic">µ</tspan>M)</text>
<text transform="translate(19.80,162.00) rotate(-90)" font-size="20.5" text-anchor="middle" stroke-width="0.85">Absorbance at 350 nm</text>
<text transform="translate(27.90,654.20) rotate(-90)" font-size="20.5" text-anchor="start" stroke-width="0.7">Polymerization</text>
<text transform="translate(27.90,516.90) rotate(-90)" font-size="20.5" text-anchor="start" stroke-width="0.7">rate</text>
<text transform="translate(27.90,478.20) rotate(-90)" font-size="20.5" text-anchor="start" stroke-width="0.7" letter-spacing="0.8">(%)</text>
</g>
</svg>
</body></html>
